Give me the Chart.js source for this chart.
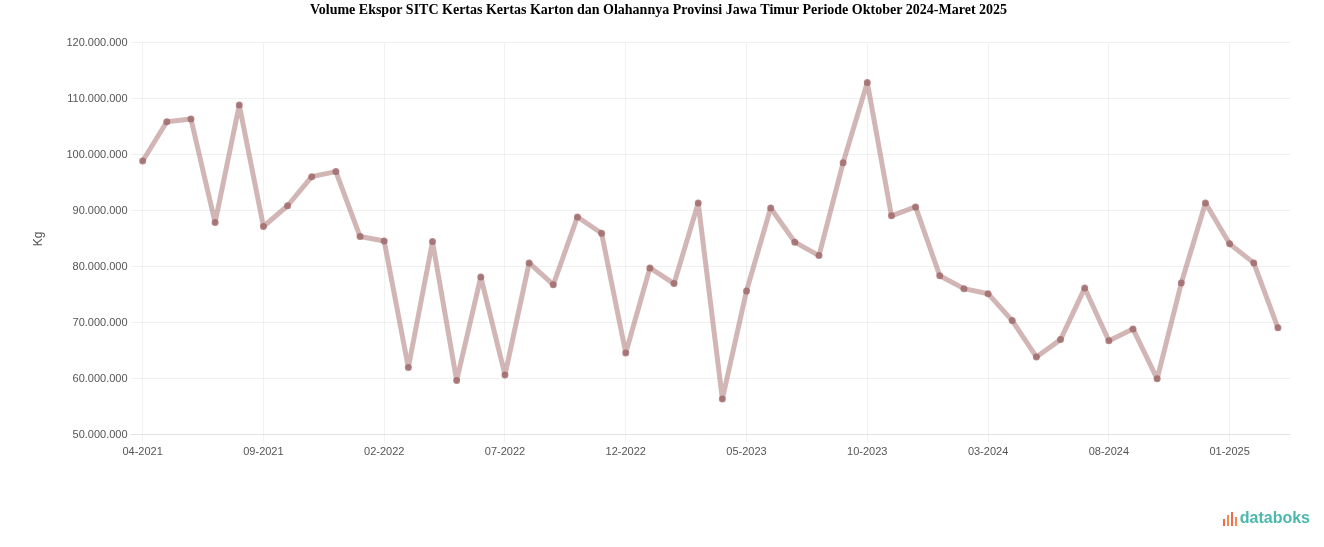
<!DOCTYPE html>
<html>
<head>
<meta charset="utf-8">
<script src="https://cdn.jsdelivr.net/npm/chart.js@4.4.1/dist/chart.umd.min.js"></script>
<style>
  html, body { margin: 0; padding: 0; background: #fff; }
  .wrap { position: relative; width: 1324px; height: 547px; }
  .logo { position: absolute; right: 14px; bottom: 20px; display: flex; align-items: flex-end; font-family: 'Liberation Sans', Arial, sans-serif; font-weight: bold; font-size: 16px; color: #4bb8ad; }
  .logo .ico { display: flex; align-items: flex-end; gap: 2px; margin-right: 3px; height: 15px; padding-bottom: 1px; }
  .logo .ico span { display: block; width: 2px; background: #f0694f; }
</style>
</head>
<body>
<div class="wrap">
  <canvas id="chart" width="1324" height="547"></canvas>
  <div class="logo"><div class="ico"><span style="height:7px"></span><span style="height:11px;background:#f28a4a"></span><span style="height:14px"></span><span style="height:9px;background:#f28a4a"></span></div>databoks</div>
</div>
<script>
// bulan (MM-YYYY)
const months = [
  '04-2021', '05-2021', '06-2021', '07-2021', '08-2021', '09-2021', '10-2021', '11-2021', '12-2021',
  '01-2022', '02-2022', '03-2022', '04-2022', '05-2022', '06-2022', '07-2022', '08-2022', '09-2022',
  '10-2022', '11-2022', '12-2022', '01-2023', '02-2023', '03-2023', '04-2023', '05-2023', '06-2023',
  '07-2023', '08-2023', '09-2023', '10-2023', '11-2023', '12-2023', '01-2024', '02-2024', '03-2024',
  '04-2024', '05-2024', '06-2024', '07-2024', '08-2024', '09-2024', '10-2024', '11-2024', '12-2024',
  '01-2025', '02-2025', '03-2025'
];

// volume ekspor (kg)
const volume = [
  98900000, 105900000, 106400000, 87900000, 108900000, 87200000, 90900000, 96100000, 97000000,
  85400000, 84600000, 62000000, 84500000, 59700000, 78200000, 60700000, 80700000, 76800000,
  88900000, 86000000, 64600000, 79800000, 77000000, 91400000, 56400000, 75700000, 90500000,
  84400000, 82000000, 98600000, 112900000, 89100000, 90700000, 78400000, 76100000, 75200000,
  70400000, 63900000, 67000000, 76200000, 66800000, 68900000, 60000000, 77100000, 91400000,
  84100000, 80700000, 69100000
];

const yTicks = [50000000, 60000000, 70000000, 80000000, 90000000, 100000000, 110000000, 120000000];

const fmt = v => v.toLocaleString('de-DE');

new Chart(document.getElementById('chart'), {
  type: 'line',
  data: {
    labels: months,
    datasets: [{
      label: 'Volume',
      data: volume,
      borderColor: 'rgba(165, 110, 110, 0.5)',
      borderWidth: 5,
      borderJoinStyle: 'round',
      borderCapStyle: 'round',
      pointRadius: 3.5,
      pointBackgroundColor: 'rgba(150, 90, 90, 0.7)',
      pointBorderWidth: 0,
      tension: 0,
    }],
  },
  options: {
    responsive: false,
    animation: false,
    layout: { padding: { left: 27, right: 34, top: 0, bottom: 85 } },
    plugins: {
      legend: { display: false },
      tooltip: { enabled: false },
      title: {
        display: true,
        text: 'Volume Ekspor SITC Kertas Kertas Karton dan Olahannya Provinsi Jawa Timur Periode Oktober 2024-Maret 2025',
        font: { family: "'Liberation Serif', 'Times New Roman', serif", size: 14, weight: 'bold' },
        color: '#000',
        padding: { top: 2, bottom: 24 },
      },
    },
    scales: {
      x: {
        offset: true,
        border: { color: 'rgba(0,0,0,0.06)' },
        grid: { color: 'rgba(0,0,0,0.05)', drawTicks: true },
        ticks: {
          autoSkip: false,
          maxRotation: 0,
          color: '#555',
          font: { family: "'Liberation Sans', Arial, sans-serif", size: 11 },
          callback: function (val, i) { return i % 5 === 0 ? months[i] : null; },
        },
      },
      y: {
        min: 50000000,
        max: 120000000,
        afterBuildTicks: axis => { axis.ticks = yTicks.map(v => ({ value: v })); },
        border: { display: false },
        grid: { color: 'rgba(0,0,0,0.06)', drawTicks: false },
        ticks: {
          color: '#555',
          padding: 3,
          font: { family: "'Liberation Sans', Arial, sans-serif", size: 11 },
          callback: v => fmt(v),
        },
        title: {
          display: true,
          text: 'Kg',
          color: '#555',
          padding: { top: 4, bottom: 18 },
          font: { family: "'Liberation Sans', Arial, sans-serif", size: 12 },
        },
      },
    },
  },
});
</script>
</body>
</html>
